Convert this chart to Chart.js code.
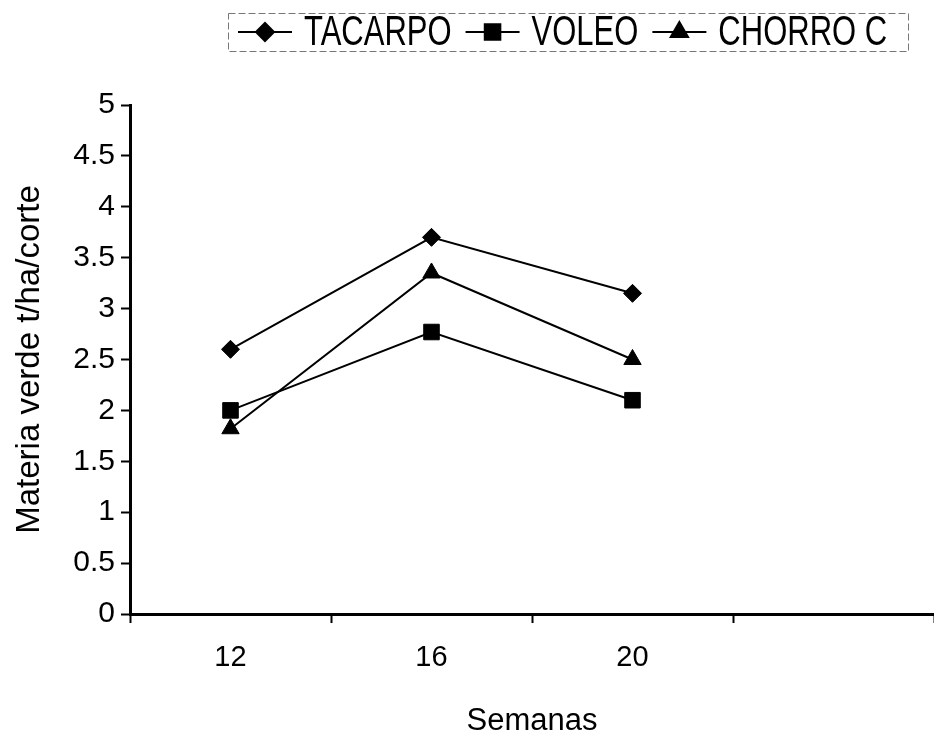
<!DOCTYPE html>
<html>
<head>
<meta charset="utf-8">
<script src="https://cdn.jsdelivr.net/npm/chart.js@4.4.1/dist/chart.umd.min.js"></script>
<style>
  html, body { margin: 0; padding: 0; background: #fff; }
  #wrap { width: 934px; height: 745px; position: relative; }
</style>
</head>
<body>
<div id="wrap"><canvas id="myChart"></canvas></div>
<script>
// semanas (4th slot empty, as in the original axis)
const weeks = ['12', '16', '20', '']
// materia verde t/ha/corte
const tacarpo = [2.6, 3.7, 3.15]
const voleo = [2.0, 2.77, 2.1]
const chorro = [1.82, 3.35, 2.5]

const FONT = '"Liberation Sans", Arial, Helvetica, sans-serif'

const makeSet = (label, data, style, radius) => ({
  label: label,
  data: data,
  borderColor: '#000',
  backgroundColor: '#000',
  borderWidth: 2,
  pointStyle: style,
  pointRadius: radius,
  pointBorderWidth: 1,
  pointBackgroundColor: '#000',
  pointBorderColor: '#000',
  tension: 0,
  fill: false
})

// legend drawn by hand: line + marker + text inside a thin box
const boxLegend = {
  id: 'boxLegend',
  afterDraw(chart) {
    const ctx = chart.ctx
    const cy = 32
    ctx.save()
    ctx.strokeStyle = '#777'
    ctx.lineWidth = 1
    ctx.setLineDash([7, 3])
    ctx.strokeRect(228.5, 13.5, 680, 38)
    ctx.setLineDash([])
    ctx.font = '31px ' + FONT
    ctx.textBaseline = 'middle'
    let x = 238
    chart.data.datasets.forEach(ds => {
      ctx.strokeStyle = '#000'
      ctx.fillStyle = '#000'
      ctx.lineWidth = 2
      ctx.beginPath()
      ctx.moveTo(x, cy)
      ctx.lineTo(x + 54, cy)
      ctx.stroke()
      Chart.helpers.drawPoint(ctx, {
        pointStyle: ds.pointStyle,
        radius: ds.pointRadius,
        borderWidth: 1,
        rotation: 0
      }, x + 27, cy)
      const tx = x + 66
      ctx.save()
      ctx.translate(tx, cy)
      ctx.scale(1, 1.35)
      ctx.fillText(ds.label, 0, 1)
      ctx.restore()
      x = tx + ctx.measureText(ds.label).width + 14
    })
    ctx.restore()
  }
}

const ctx = document.getElementById('myChart').getContext('2d')

new Chart(ctx, {
  type: 'line',
  data: {
    labels: weeks,
    datasets: [
      makeSet('TACARPO', tacarpo, 'rectRot', 9),
      makeSet('VOLEO', voleo, 'rect', 11),
      makeSet('CHORRO C', chorro, 'triangle', 10)
    ]
  },
  options: {
    responsive: true,
    maintainAspectRatio: false,
    animation: false,
    layout: {
      autoPadding: false,
      padding: { top: 105, right: 0, left: 0, bottom: 0 }
    },
    plugins: {
      legend: { display: false },
      tooltip: { enabled: false }
    },
    scales: {
      x: {
        offset: true,
        afterFit: (scale) => {
          scale.height = 131
          scale.paddingLeft = 0
          scale.paddingRight = 0
        },
        border: { color: '#000', width: 3 },
        grid: {
          offset: true,
          drawOnChartArea: false,
          drawTicks: true,
          tickLength: 9,
          tickWidth: 2,
          tickColor: '#000'
        },
        ticks: {
          color: '#000',
          padding: 18,
          maxRotation: 0,
          font: { family: FONT, size: 29 }
        },
        title: {
          display: true,
          text: 'Semanas',
          color: '#000',
          font: { family: FONT, size: 31, lineHeight: 1 },
          padding: { top: 0, bottom: 8 }
        }
      },
      y: {
        min: 0,
        max: 5,
        afterFit: (scale) => {
          scale.width = 130
          scale.paddingTop = 0
          scale.paddingBottom = 0
        },
        border: { color: '#000', width: 3 },
        grid: {
          drawOnChartArea: false,
          drawTicks: true,
          tickLength: 9,
          tickWidth: 2,
          tickColor: '#000'
        },
        ticks: {
          stepSize: 0.5,
          color: '#000',
          padding: 6,
          font: { family: FONT, size: 30 },
          callback: (v) => String(v)
        },
        title: {
          display: true,
          text: 'Materia verde t/ha/corte',
          color: '#000',
          font: { family: FONT, size: 33 },
          padding: { top: 10, bottom: 0 }
        }
      }
    }
  },
  plugins: [boxLegend]
})
</script>
</body>
</html>
